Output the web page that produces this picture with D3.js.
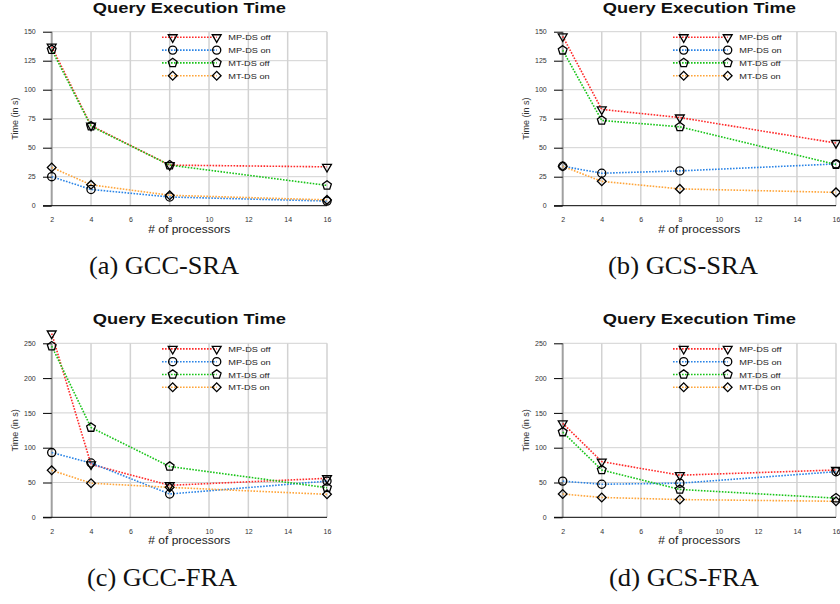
<!DOCTYPE html>
<html>
<head>
<meta charset="utf-8">
<script src="https://cdn.jsdelivr.net/npm/d3@7"></script>
<style>
  body { margin: 0; background: #fff; }
  svg { display: block; }
</style>
</head>
<body>
<script>
// x values shared by every panel
var procs = [2, 4, 8, 16];
var seriesNames = ["MP-DS off", "MP-DS on", "MT-DS off", "MT-DS on"];

// (a) GCC-SRA
var gccSraMpOff = [137, 69, 35, 33.5];
var gccSraMpOn  = [25, 14, 7.5, 4];
var gccSraMtOff = [134.5, 68.5, 35, 17.5];
var gccSraMtOn  = [33, 18, 9, 5];

// (b) GCS-SRA
var gcsSraMpOff = [146, 83, 76, 54];
var gcsSraMpOn  = [34, 28, 30, 36];
var gcsSraMtOff = [134, 73.5, 68, 35.5];
var gcsSraMtOn  = [34, 21, 14.5, 11.5];

// (c) GCC-FRA
var gccFraMpOff = [264, 76, 46, 56];
var gccFraMpOn  = [93, 78, 33.5, 52];
var gccFraMtOff = [246, 129, 73, 42.5];
var gccFraMtOn  = [67.5, 49, 43, 33];

// (d) GCS-FRA
var gcsFraMpOff = [135, 80, 60.5, 68];
var gcsFraMpOn  = [52, 47.5, 49, 65.5];
var gcsFraMtOff = [122.5, 68, 40, 27.5];
var gcsFraMtOn  = [33.5, 28.5, 25.5, 23];

var xTickValues = [2, 4, 6, 8, 10, 12, 14, 16];
var colors = ["#ff2a2a", "#2a84e6", "#18c418", "#ffa53a"];

var svg = d3.select("body").append("svg")
    .attr("width", 840)
    .attr("height", 604);

// marker shapes
function pentagonPath(r) {
    var pts = d3.range(5).map(function(i) {
        var a = -Math.PI / 2 + i * 2 * Math.PI / 5;
        return [r * Math.cos(a), r * Math.sin(a)];
    });
    return "M" + pts.join("L") + "Z";
}
var shapes = [
    { d: d3.symbol(d3.symbolTriangle, 34)(), rot: 180 },
    { d: d3.symbol(d3.symbolCircle, 52)(), rot: 0 },
    { d: pentagonPath(4.6), rot: 0 },
    { d: d3.symbol(d3.symbolSquare, 38)(), rot: 45 }
];

function addMarker(g, k, px, py) {
    g.append("path")
        .attr("d", shapes[k].d)
        .attr("transform", "translate(" + px + "," + py + ") rotate(" + shapes[k].rot + ")")
        .attr("fill", "none")
        .attr("stroke", "#000")
        .attr("stroke-width", 1.3);
}

function drawPanel(p) {
    var x = d3.scaleLinear().domain([2, 16]).range([p.left, p.right]);
    var y = d3.scaleLinear().domain([0, p.ymax]).range([p.bottom, p.top]);
    var yTicks = d3.range(0, p.ymax + 1, p.step);
    var g = svg.append("g");

    // grid
    g.selectAll("line.vgrid")
        .data(xTickValues.slice(1))
        .enter().append("line")
        .attr("x1", function(d) { return x(d); })
        .attr("x2", function(d) { return x(d); })
        .attr("y1", y(0))
        .attr("y2", y(p.ymax))
        .attr("stroke", "#d2d2d2")
        .attr("stroke-width", 1.5);

    g.selectAll("line.hgrid")
        .data(yTicks.slice(1))
        .enter().append("line")
        .attr("x1", x(2))
        .attr("x2", x(16))
        .attr("y1", function(d) { return y(d); })
        .attr("y2", function(d) { return y(d); })
        .attr("stroke", "#d2d2d2")
        .attr("stroke-width", 1);

    // left axis line (grey) and bottom line (black)
    g.append("line")
        .attr("x1", x(2)).attr("x2", x(2))
        .attr("y1", y(0)).attr("y2", y(p.ymax))
        .attr("stroke", "#a0a0a0")
        .attr("stroke-width", 2);
    g.append("line")
        .attr("x1", x(2) - 8.7).attr("x2", x(16))
        .attr("y1", y(0)).attr("y2", y(0))
        .attr("stroke", "#000")
        .attr("stroke-width", 1);

    // axes
    var yAxis = g.append("g")
        .attr("transform", "translate(" + x(2) + ",0)")
        .call(d3.axisLeft(y).tickValues(yTicks).tickSize(8.7).tickPadding(7.3));
    yAxis.select(".domain").remove();
    yAxis.selectAll("line").attr("stroke", "#000");
    yAxis.selectAll("text")
        .attr("font-family", "Liberation Sans, Arial, sans-serif")
        .attr("font-size", 7)
        .attr("fill", "#333");

    var xAxis = g.append("g")
        .attr("transform", "translate(0," + y(0) + ")")
        .call(d3.axisBottom(x).tickValues(xTickValues).tickSize(0).tickPadding(11.3));
    xAxis.select(".domain").remove();
    xAxis.selectAll("text")
        .attr("font-family", "Liberation Sans, Arial, sans-serif")
        .attr("font-size", 7)
        .attr("fill", "#333");

    // titles
    var cx = (p.left + p.right) / 2;
    g.append("text")
        .attr("x", cx)
        .attr("y", p.top - 19.2)
        .attr("text-anchor", "middle")
        .attr("font-family", "Liberation Sans, Arial, sans-serif")
        .attr("font-weight", "bold")
        .attr("font-size", 15)
        .attr("textLength", 193)
        .attr("lengthAdjust", "spacingAndGlyphs")
        .attr("fill", "#111")
        .text("Query Execution Time");

    g.append("text")
        .attr("x", cx)
        .attr("y", p.bottom + 27)
        .attr("text-anchor", "middle")
        .attr("font-family", "Liberation Sans, Arial, sans-serif")
        .attr("font-size", 10)
        .attr("textLength", 82)
        .attr("lengthAdjust", "spacingAndGlyphs")
        .attr("fill", "#222")
        .text("# of processors");

    g.append("text")
        .attr("transform", "translate(" + (p.left - 36.7) + "," + ((p.top + p.bottom) / 2) + ") rotate(-90)")
        .attr("dy", "0.35em")
        .attr("text-anchor", "middle")
        .attr("font-family", "Liberation Sans, Arial, sans-serif")
        .attr("font-size", 9)
        .attr("fill", "#333")
        .text("Time (in s)");

    // series
    var line = d3.line()
        .x(function(d, i) { return x(procs[i]); })
        .y(function(d) { return y(d); });

    p.series.forEach(function(vals, k) {
        g.append("path")
            .attr("d", line(vals))
            .attr("fill", "none")
            .attr("stroke", colors[k])
            .attr("stroke-width", 1.6)
            .attr("stroke-dasharray", "1.6,1.4");
    });
    p.series.forEach(function(vals, k) {
        vals.forEach(function(v, i) {
            addMarker(g, k, x(procs[i]), y(v));
        });
    });

    // legend
    seriesNames.forEach(function(name, k) {
        var ly = p.top + 5.6 + k * 12.8;
        g.append("line")
            .attr("x1", p.left + 110.3).attr("x2", p.left + 165)
            .attr("y1", ly).attr("y2", ly)
            .attr("stroke", colors[k])
            .attr("stroke-width", 1.6)
            .attr("stroke-dasharray", "1.6,1.4");
        addMarker(g, k, p.left + 121, ly);
        addMarker(g, k, p.left + 165, ly);
        g.append("text")
            .attr("transform", "translate(" + (p.left + 176.6) + "," + (ly + 3) + ") scale(1.15,1)")
            .attr("font-family", "Liberation Sans, Arial, sans-serif")
            .attr("font-size", 8)
            .attr("fill", "#222")
            .text(name);
    });

    // caption
    svg.append("text")
        .attr("x", p.capX)
        .attr("y", p.bottom + 68.5)
        .attr("text-anchor", "middle")
        .attr("font-family", "Liberation Serif, Times New Roman, serif")
        .attr("font-size", 25)
        .attr("textLength", 150)
        .attr("lengthAdjust", "spacingAndGlyphs")
        .attr("fill", "#111")
        .text(p.caption);
}

drawPanel({ left: 51.7, right: 327, top: 31.7, bottom: 205.7, ymax: 150, step: 25,
    series: [gccSraMpOff, gccSraMpOn, gccSraMtOff, gccSraMtOn], caption: "(a) GCC-SRA", capX: 164 });
drawPanel({ left: 562.7, right: 836, top: 31.7, bottom: 205.7, ymax: 150, step: 25,
    series: [gcsSraMpOff, gcsSraMpOn, gcsSraMtOff, gcsSraMtOn], caption: "(b) GCS-SRA", capX: 683 });
drawPanel({ left: 51.7, right: 327, top: 343.3, bottom: 517.3, ymax: 250, step: 50,
    series: [gccFraMpOff, gccFraMpOn, gccFraMtOff, gccFraMtOn], caption: "(c) GCC-FRA", capX: 162 });
drawPanel({ left: 562.7, right: 836, top: 343.3, bottom: 517.3, ymax: 250, step: 50,
    series: [gcsFraMpOff, gcsFraMpOn, gcsFraMtOff, gcsFraMtOn], caption: "(d) GCS-FRA", capX: 684 });
</script>
</body>
</html>
